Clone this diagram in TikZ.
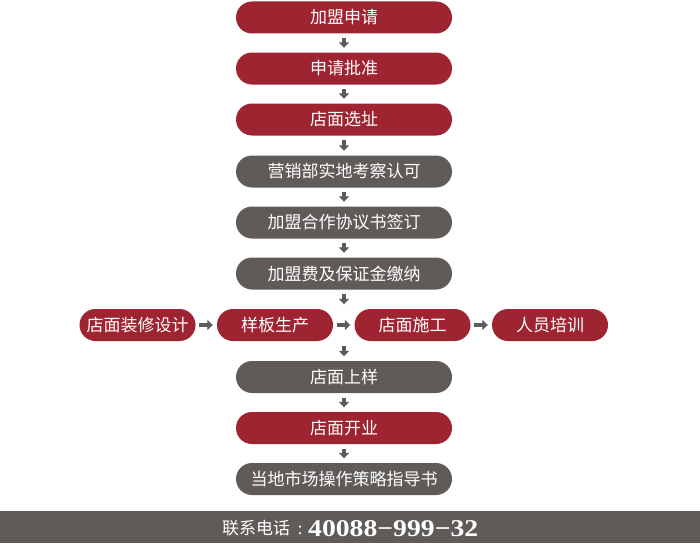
\documentclass[tikz,border=0pt]{standalone}
\usepackage{fontspec}
\usepackage{graphicx}
\usetikzlibrary{shapes.misc}
\usetikzlibrary{arrows.meta}
\newfontfamily\cjk{Noto Sans CJK SC}
\newfontfamily\numfont{Liberation Serif}
\definecolor{stepred}{HTML}{9E2431}
\definecolor{stepgray}{HTML}{5F5B59}
\definecolor{arrowgray}{HTML}{5C5C5C}
\tikzstyle{stepbox}=[rounded rectangle, inner sep=0pt, minimum height=32pt, text=white, font=\cjk\fontsize{17pt}{18pt}\selectfont]
\tikzstyle{redstep}=[stepbox, fill=stepred, minimum width=216pt]
\tikzstyle{graystep}=[stepbox, fill=stepgray, minimum width=216pt]
\tikzstyle{rowstep}=[stepbox, fill=stepred, minimum width=116pt]
\tikzstyle{flow}=[draw=arrowgray, line width=4.5pt, -{Triangle[width=10pt, length=5.5pt]}]

\begin{document}
\begin{tikzpicture}[x=1pt, y=-1pt]
        \useasboundingbox (0,0) rectangle (700,543);
        % main column
        \node[redstep] (apply) at (344, 17.5) {加盟申请};
        \node[redstep] (approve) at (344, 68.5) {申请批准};
        \node[redstep] (site) at (344, 119.5) {店面选址};
        \node[graystep] (survey) at (344, 171.5) {营销部实地考察认可};
        \node[graystep] (contract) at (344, 222.5) {加盟合作协议书签订};
        \node[graystep] (fee) at (344, 273.5) {加盟费及保证金缴纳};
        % side row
        \node[rowstep] (design) at (137.5, 325) {店面装修设计};
        \node[rowstep] (sample) at (275, 325) {样板生产};
        \node[rowstep] (build) at (412.5, 325) {店面施工};
        \node[rowstep] (train) at (550, 325) {人员培训};
        \node[graystep] (stock) at (344, 377) {店面上样};
        \node[redstep] (opening) at (344, 428) {店面开业};
        \node[graystep] (guide) at (344, 479) {当地市场操作策略指导书};
        % arrows
        \foreach \a/\b in {apply/approve, approve/site, site/survey, survey/contract, contract/fee, opening/guide, stock/opening}
            \draw[flow, shorten <=4.5pt, shorten >=4.5pt] (\a.south) -- (\b.north);
        \draw[flow, shorten <=4.5pt, shorten >=4.5pt] (fee.south) -- (fee.south |- build.north);
        \draw[flow, shorten <=4.5pt, shorten >=4.5pt] (fee.south |- build.south) -- (stock.north);
        \foreach \a/\b in {design/sample, sample/build, build/train}
            \draw[flow, shorten <=3.5pt, shorten >=4pt] (\a.east) -- (\b.west);
        % footer
        \fill[stepgray] (0,511) rectangle (700,543);
        \node[anchor=base west, inner sep=0pt, text=white, font=\cjk\fontsize{17pt}{17pt}\selectfont] (tellabel) at (222,534) {联系电话};
        \node[anchor=base, inner sep=0pt, text=white, font=\numfont\fontsize{18pt}{18pt}\selectfont] (telcolon) at (300,534) {:};
        \node[anchor=base west, inner sep=0pt, text=white] (telnum) at (308,536) {\resizebox{170pt}{16pt}{\numfont\bfseries 40088−999−32}};
    \end{tikzpicture}
\end{document}
